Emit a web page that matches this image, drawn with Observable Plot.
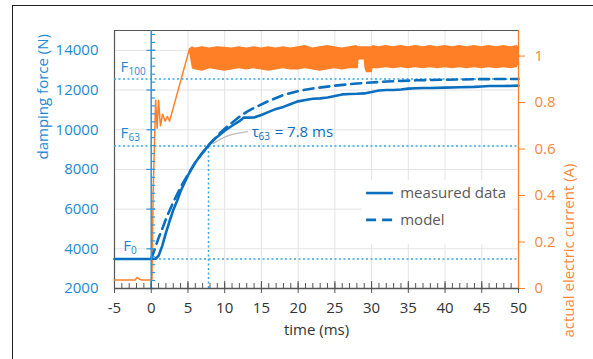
<!DOCTYPE html>
<html><head><meta charset="utf-8">
<script src="https://cdn.jsdelivr.net/npm/d3@7"></script>
<script src="https://cdn.jsdelivr.net/npm/@observablehq/plot@0.6"></script>
<style>
html,body{margin:0;padding:0;background:#fff;}
#wrap{position:relative;width:593px;height:359px;overflow:hidden;background:#fff;}
#border{position:absolute;left:12px;top:5px;width:700px;height:500px;border-left:1.5px solid #222;border-top:1.5px solid #222;}
#chart{position:absolute;left:0;top:0;}
</style></head><body>
<div id="wrap"><div id="border"></div><div id="chart"></div></div>
<script>
// ---------- data ----------
const X_TICKS = [-5, 0, 5, 10, 15, 20, 25, 30, 35, 40, 45, 50];
const Y_TICKS = [2000, 4000, 6000, 8000, 10000, 12000, 14000];
const R_TICKS = [0, 0.2, 0.4, 0.6, 0.8, 1];

const T_MEAS = [-5, -2, 0, 0.6, 1.0, 1.5, 2.0, 2.5, 3.0, 3.5, 4.0, 5.0, 6.0, 7.0, 8.0, 9.0, 10.0, 11.0, 12.0, 12.6, 13.3, 14.0, 15.0, 16.0, 17.0, 18.0, 19.0, 20.0, 21, 22, 23, 24, 25, 26, 27, 28, 29, 30, 31, 32, 33, 34, 35, 36, 37, 38, 40, 42, 44, 45, 46, 48, 50];
const F_MEAS = [3490, 3490, 3490, 3500, 3650, 4150, 4800, 5400, 5950, 6400, 6900, 7700, 8350, 8850, 9300, 9650, 9950, 10200, 10430, 10620, 10610, 10620, 10740, 10900, 11050, 11150, 11300, 11430, 11500, 11560, 11580, 11620, 11700, 11780, 11800, 11810, 11830, 11900, 11980, 12000, 12000, 12030, 12070, 12090, 12100, 12100, 12120, 12140, 12160, 12180, 12200, 12200, 12220];

const T_MODEL = [0, 0.5, 1, 1.5, 2, 3, 4, 5, 6, 7, 8, 9, 10, 11, 12, 13, 14, 16, 18, 20, 22, 25, 28, 32, 36, 40, 45, 50];
const F_MODEL = [3500, 4000, 4550, 5000, 5500, 6350, 7100, 7750, 8350, 8850, 9300, 9700, 10050, 10350, 10650, 10900, 11100, 11450, 11750, 11950, 12080, 12220, 12330, 12430, 12490, 12520, 12550, 12560];

const T_CUR = [-5, -2.2, -1.9, -1.6, -1.3, 0.1, 0.25, 0.6, 0.8, 1.0, 1.25, 1.55, 1.9, 2.2, 2.5, 5.2];
const I_CUR = [0.037, 0.037, 0.047, 0.040, 0.037, 0.037, 0.40, 0.81, 0.69, 0.81, 0.70, 0.75, 0.72, 0.74, 0.72, 1.03];

const T_BAND = [5.2, 5.6, 6, 7, 8, 9, 10, 11, 12, 13, 14, 15, 16, 17, 18, 19, 20, 21, 22, 23, 24, 25, 26, 27, 28, 28.2, 28.3, 29.0, 29.1, 29.3, 30.1, 30.2, 31, 32, 33, 34, 35, 36, 37, 38, 39, 40, 41, 42, 43, 44, 45, 46, 47, 48, 49, 49.8, 50];
const I_LO   = [1.02, 0.945, 0.94, 0.935, 0.945, 0.94, 0.935, 0.94, 0.945, 0.94, 0.945, 0.94, 0.935, 0.94, 0.945, 0.94, 0.94, 0.945, 0.94, 0.935, 0.94, 0.945, 0.94, 0.945, 0.945, 0.945, 0.983, 0.983, 0.945, 0.928, 0.928, 0.945, 0.945, 0.95, 0.945, 0.95, 0.945, 0.95, 0.945, 0.95, 0.945, 0.95, 0.945, 0.95, 0.945, 0.95, 0.945, 0.95, 0.945, 0.95, 0.945, 0.95, 0.96];
const I_HI   = [1.03, 1.04, 1.035, 1.04, 1.035, 1.04, 1.038, 1.035, 1.04, 1.035, 1.04, 1.035, 1.04, 1.035, 1.04, 1.035, 1.04, 1.045, 1.035, 1.04, 1.045, 1.04, 1.035, 1.04, 1.045, 1.04, 1.04, 1.04, 1.04, 1.04, 1.04, 1.045, 1.04, 1.045, 1.04, 1.045, 1.04, 1.045, 1.04, 1.045, 1.04, 1.045, 1.04, 1.045, 1.04, 1.045, 1.04, 1.045, 1.04, 1.045, 1.04, 1.045, 1.04];

const F0 = 3490, F63 = 9180, F100 = 12560, TAU = 7.8;

// ---------- helpers ----------
const I_MAX = 1.11, Y_MIN = 2000, Y_MAX = 15000;
const toF = I => Y_MIN + I * (Y_MAX - Y_MIN) / I_MAX;
const fromF = F => (F - Y_MIN) * I_MAX / (Y_MAX - Y_MIN);

const meas = T_MEAS.map((t, i) => ({t, F: F_MEAS[i]}));
const model = T_MODEL.map((t, i) => ({t, F: F_MODEL[i]}));
const cur = T_CUR.map((t, i) => ({t, I: I_CUR[i]}));
const band = T_BAND.map((t, i) => ({t, lo: I_LO[i], hi: I_HI[i]}));

const MINOR_X = d3.range(-5, 51, 1);
const MINOR_Y = d3.range(2000, 15001, 400);

const BLUE = "#0B6FC0", BLUE_TXT = "#1C8AD2", DOT = "#34A7E4", AXB = "#2E97DC";
const ORANGE = "#FF7F27", ORANGE_TXT = "#F8873A", GRID = "#e3e3e3", DARK = "#555";
const FONT = "'Open Sans', sans-serif";
const FS = 15;

const plot = Plot.plot({
  width: 593, height: 359,
  marginLeft: 114, marginRight: 75, marginTop: 30, marginBottom: 71,
  style: {fontFamily: FONT, fontSize: FS + "px", background: "transparent", overflow: "visible"},
  x: {domain: [-5, 50]},
  y: {domain: [Y_MIN, Y_MAX]},
  marks: [
    Plot.gridX(X_TICKS, {stroke: GRID, strokeOpacity: 1}),
    Plot.gridY(Y_TICKS, {stroke: GRID, strokeOpacity: 1}),
    // legend background
    Plot.rect([0], {x1: 28.7, x2: 49.3, y1: 4200, y2: 7450, fill: "white"}),
    // frame
    Plot.ruleY([Y_MAX], {stroke: DARK, strokeWidth: 1.2}),
    Plot.ruleX([-5], {stroke: DARK, strokeWidth: 1.2}),
    // current
    Plot.areaY(band, {x: "t", y1: d => toF(d.lo), y2: d => toF(d.hi), fill: ORANGE}),
    Plot.line(cur, {x: "t", y: d => toF(d.I), stroke: ORANGE, strokeWidth: 1.5}),
    // reference dotted lines
    Plot.ruleY([F100, F63, F0], {stroke: DOT, strokeWidth: 1.5, strokeDasharray: "2,2.5"}),
    Plot.ruleX([TAU], {y1: Y_MIN, y2: F63, stroke: DOT, strokeWidth: 1.5, strokeDasharray: "2,2.5"}),
    // leader line
    Plot.line([{t: 8.4, F: 9300}, {t: 10.5, F: 9700}, {t: 13.1, F: 9900}], {x: "t", y: "F", stroke: "#bdbdbd", strokeWidth: 1.3, curve: "natural"}),
    // force
    Plot.line(meas, {x: "t", y: "F", stroke: BLUE, strokeWidth: 2.6}),
    Plot.line(model, {x: "t", y: "F", stroke: BLUE, strokeWidth: 2.6, strokeDasharray: "10,6"}),
    // blue axis at t = 0
    Plot.ruleX([0], {stroke: AXB, strokeWidth: 1.5}),
    Plot.ruleY(MINOR_Y, {x1: 0, x2: 0.6, stroke: AXB, strokeWidth: 1.2}),
    Plot.ruleY(Y_TICKS, {x1: -0.6, x2: 0.6, stroke: AXB, strokeWidth: 1.2}),
    // bottom axis
    Plot.ruleY([Y_MIN], {stroke: DARK, strokeWidth: 1.3}),
    Plot.ruleX(MINOR_X, {insetTop: 253, stroke: DARK, strokeWidth: 1}),
    Plot.ruleX(X_TICKS, {insetTop: 251, insetBottom: -5, stroke: DARK, strokeWidth: 1}),
    // right axis
    Plot.ruleX([50], {stroke: ORANGE, strokeWidth: 1.3}),
    Plot.axisY(R_TICKS.map(toF), {anchor: "right", tickSize: 6, tickPadding: 10, stroke: ORANGE, fill: ORANGE_TXT, label: null,
      tickFormat: d => d3.format("~g")(+fromF(d).toFixed(2)), fontSize: FS}),
    Plot.axisY(Y_TICKS, {anchor: "left", tickSize: 0, tickPadding: 16, fill: BLUE_TXT, label: null, tickFormat: d => String(d), fontSize: FS}),
    Plot.axisX(X_TICKS, {tickSize: 0, tickPadding: 14, fill: "#333", label: null, tickFormat: d => String(d), fontSize: FS}),
    // titles
    Plot.text(["damping force (N)"], {frameAnchor: "left", dx: -71, rotate: -90, fill: BLUE_TXT, fontSize: FS}),
    Plot.text(["actual electric current (A)"], {frameAnchor: "right", dx: 51, dy: 4, rotate: -90, fill: ORANGE_TXT, fontSize: FS}),
    Plot.text(["time (ms)"], {frameAnchor: "bottom", dy: 46, fill: "#333", fontSize: FS}),
    // F labels
    Plot.text([F100], {x: -4.2, y: d => d, dy: -12, text: () => "F", textAnchor: "start", fill: BLUE_TXT, fontSize: 15}),
    Plot.text([F100], {x: -3.1, y: d => d, dy: -7, text: () => "100", textAnchor: "start", fill: BLUE_TXT, fontSize: 10}),
    Plot.text([F63], {x: -4.2, y: d => d, dy: -13, text: () => "F", textAnchor: "start", fill: BLUE_TXT, fontSize: 15}),
    Plot.text([F63], {x: -3.1, y: d => d, dy: -8, text: () => "63", textAnchor: "start", fill: BLUE_TXT, fontSize: 10}),
    Plot.text([F0], {x: -3.8, y: d => d, dy: -13, text: () => "F", textAnchor: "start", fill: BLUE_TXT, fontSize: 15}),
    Plot.text([F0], {x: -2.75, y: d => d, dy: -8, text: () => "0", textAnchor: "start", fill: BLUE_TXT, fontSize: 10}),
    // tau label
    Plot.text([TAU], {x: 13.7, y: 9900, text: () => "τ", textAnchor: "start", fill: BLUE, fontSize: 15}),
    Plot.text([TAU], {x: 14.6, y: 9900, dy: 5, text: () => "63", textAnchor: "start", fill: BLUE, fontSize: 10}),
    Plot.text([TAU], {x: 16.8, y: 9900, text: d => "= " + d + " ms", textAnchor: "start", fill: BLUE, fontSize: 15}),
    // legend
    Plot.link([0], {x1: 29.25, x2: 32.9, y1: 6810, y2: 6810, stroke: BLUE, strokeWidth: 2.6}),
    Plot.link([0], {x1: 29.25, x2: 32.9, y1: 5460, y2: 5460, stroke: BLUE, strokeWidth: 2.6, strokeDasharray: "10,6"}),
    Plot.text(["measured data"], {x: 33.9, y: 6810, textAnchor: "start", fill: "#595959", fontSize: FS}),
    Plot.text(["model"], {x: 33.9, y: 5460, textAnchor: "start", fill: "#595959", fontSize: FS})
  ]
});
document.getElementById("chart").appendChild(plot);
</script>
</body></html>
